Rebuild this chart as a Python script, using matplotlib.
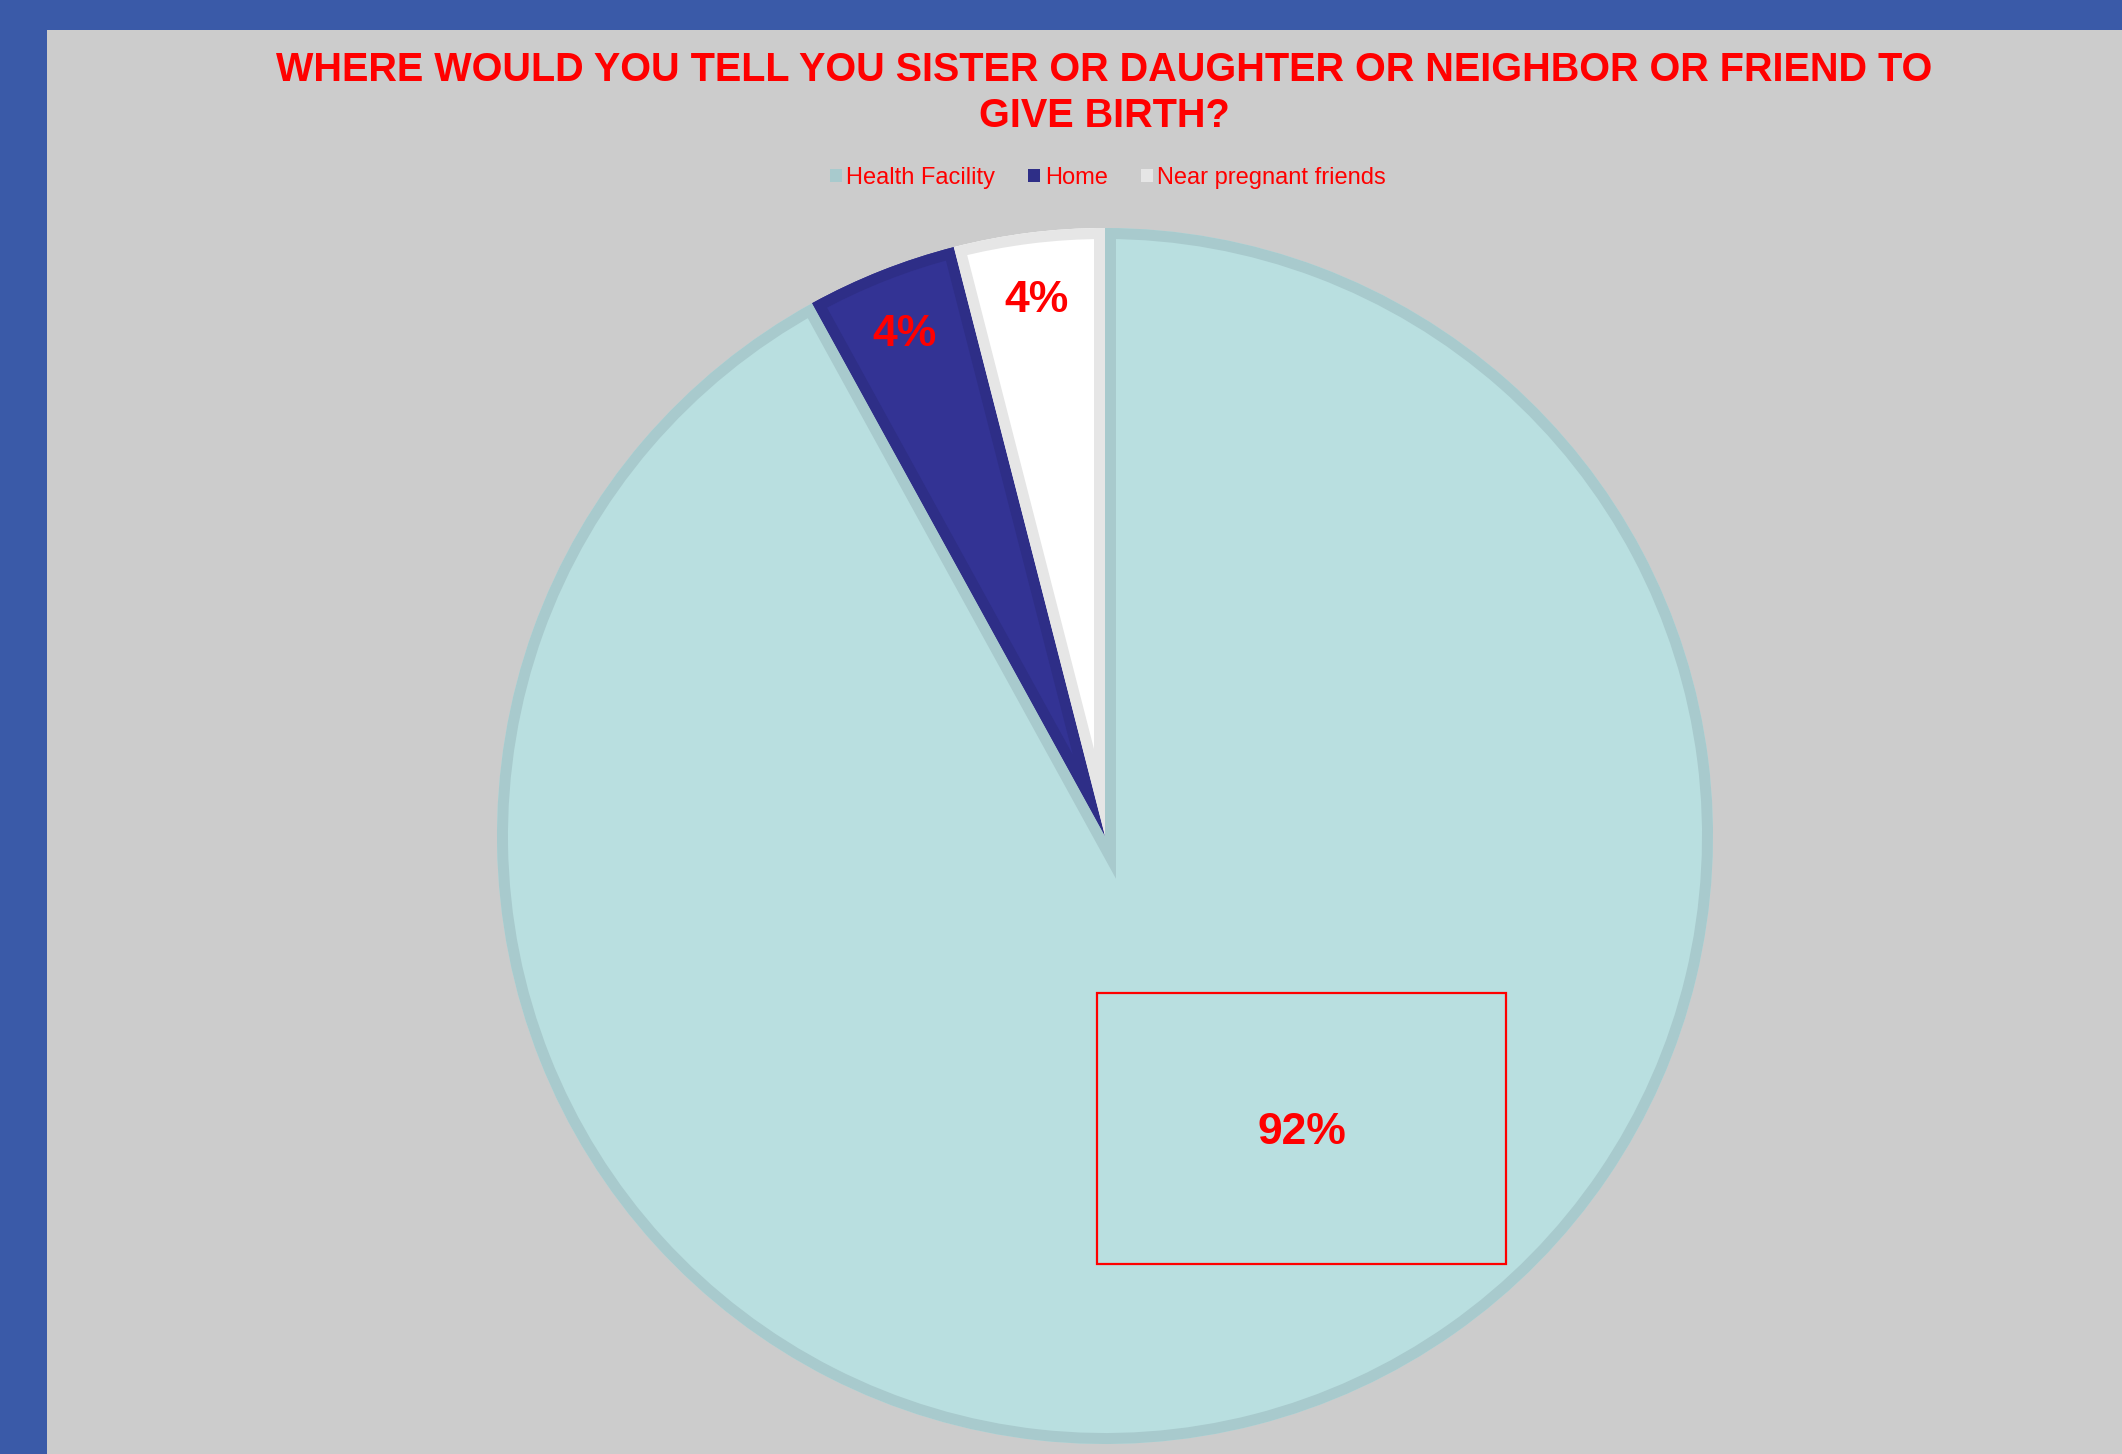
import matplotlib
matplotlib.use("Agg")
import matplotlib.pyplot as plt
from matplotlib.patches import Patch, PathPatch, Rectangle
import numpy as np

plt.rcParams['font.family'] = ['Liberation Sans', 'DejaVu Sans']

# data
categories = ['Health Facility', 'Home', 'Near pregnant friends']
shares = [92, 4, 4]
pct_labels = ['92%', '4%', '4%']
title = 'WHERE WOULD YOU TELL YOU SISTER OR DAUGHTER OR NEIGHBOR OR FRIEND TO\nGIVE BIRTH?'

fills = ['#b9dfe0', '#333394', '#ffffff']
edges = ['#a8cacd', '#2e2e87', '#e6e6e6']

W, H = 2122, 1454
fig = plt.figure(figsize=(W / 100, H / 100), dpi=100)
fig.patch.set_facecolor('#3a5aa8')
# grey chart area
fig.add_artist(Rectangle((47 / W, 0), 1 - 47 / W, 1 - 30 / H, transform=fig.transFigure,
                         facecolor='#cccccc', edgecolor='none', zorder=0))

# pie area (centre 1105,836 px, radius 608 px)
cx, cy, R = 1105, 836, 608
ax = fig.add_axes([(cx - R) / W, (H - cy - R) / H, 2 * R / W, 2 * R / H])
ax.set_facecolor('none')

wedges, _ = ax.pie(shares, startangle=90, counterclock=False, colors=fills,
                   wedgeprops=dict(linewidth=0))
ax.set_xlim(-1, 1)
ax.set_ylim(-1, 1)

# inner stroke like the original: draw the outline again, clipped to its own slice
for w, ec in zip(wedges, edges):
    ring = PathPatch(w.get_path(), facecolor='none', edgecolor=ec,
                     linewidth=15.8, joinstyle='miter')
    ax.add_patch(ring)
    ring.set_clip_path(w.get_path(), ax.transData)
    ring.set_zorder(w.get_zorder())

# small slice labels along their mid angles
theta = 90 - np.cumsum([0] + shares[:-1]) * 3.6 - np.array(shares) * 1.8
for i in (1, 2):
    a = np.deg2rad(theta[i])
    ax.text(0.895 * np.cos(a), 0.895 * np.sin(a) - 0.007, pct_labels[i], color='red',
            fontsize=32, fontweight='bold', ha='center', va='center', zorder=6)

# big slice label inside a red framed box
lx, ly = 0.323, -0.481
bw, bh = 0.673, 0.446
ax.add_patch(Rectangle((lx - bw / 2, ly - bh / 2), bw, bh, facecolor='none',
                       edgecolor='red', linewidth=1.6, zorder=5))
ax.text(lx, ly - 0.007, pct_labels[0], color='red', fontsize=32, fontweight='bold',
        ha='center', va='center', zorder=6)

ax.axis('off')

fig.text(1104 / W, 1 - 93 / H, title, color='red', fontsize=28.5, fontweight='bold',
         ha='center', va='center', linespacing=1.26)

handles = [Patch(facecolor=e, edgecolor='none') for e in edges]
leg = fig.legend(handles, categories, loc='center', bbox_to_anchor=(1108 / W, 1 - 178 / H),
                 ncol=3, frameon=False, fontsize=17, handlelength=0.5, handleheight=0.5,
                 handletextpad=0.2, columnspacing=1.4, borderaxespad=0)
for t in leg.get_texts():
    t.set_color('red')

fig.savefig('out.png', dpi=100, facecolor=fig.get_facecolor())
